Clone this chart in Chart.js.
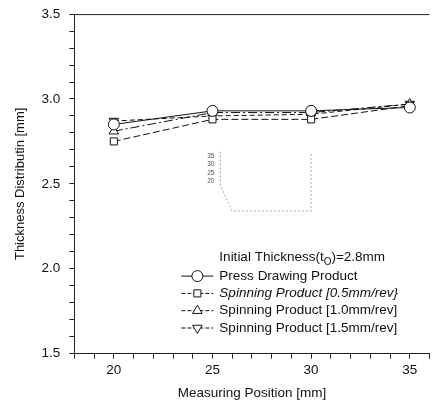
<!DOCTYPE html>
<html lang="en">
<head>
    <meta charset="UTF-8">
    <title>Thickness Distribution</title>
    <style>
        body {
            margin: 0;
            background-color: white;
            overflow: hidden;
        }
        #wrap {
            width: 436px;
            height: 406px;
            margin-top: -3px;
        }
    </style>
</head>
<body>
    <div id="wrap"><canvas id="thicknessChart"></canvas></div>

    <script src="https://cdn.jsdelivr.net/npm/chart.js"></script>
    <script>
        // measuring positions [mm]
        const positions = [20, 25, 30, 35];

        // thickness values [mm]
        const pressDrawing = [2.85, 2.93, 2.93, 2.95];
        const spinning05 = [2.75, 2.88, 2.88, 2.96];
        const spinning10 = [2.81, 2.92, 2.92, 2.97];
        const spinning15 = [2.87, 2.90, 2.91, 2.97];

        const seriesNames = [
            'Press Drawing Product',
            'Spinning Product [0.5mm/rev}',
            'Spinning Product [1.0mm/rev]',
            'Spinning Product [1.5mm/rev]'
        ];

        // faint inset labels from the scanned figure
        const insetLabels = ['35', '30', '25', '20'];
        const insetValues = [2.665, 2.615, 2.565, 2.515];

        const FONT = '"Liberation Sans", Arial, sans-serif';

        const styles = [
            { pointStyle: 'circle', rotation: 0, dash: [] },
            { pointStyle: 'rect', rotation: 0, dash: [7, 3] },
            { pointStyle: 'triangle', rotation: 0, dash: [9, 3, 2, 3] },
            { pointStyle: 'triangle', rotation: 180, dash: [5, 3] }
        ];

        const allSeries = [pressDrawing, spinning05, spinning10, spinning15];

        const datasets = allSeries.map((vals, i) => ({
            label: seriesNames[i],
            data: positions.map((p, j) => ({ x: p, y: vals[j] })),
            borderColor: '#111',
            borderWidth: 1,
            borderDash: styles[i].dash,
            pointStyle: styles[i].pointStyle,
            rotation: styles[i].rotation,
            pointRadius: styles[i].pointStyle === 'rect' ? 5 : 5.5,
            pointBackgroundColor: 'white',
            pointBorderColor: '#111',
            pointBorderWidth: 1,
            tension: 0
        }));

        // top frame line, legend and inset sketch
        const decorations = {
            id: 'decorations',
            afterDraw(chart) {
                const ctx = chart.ctx;
                const ca = chart.chartArea;
                const xs = chart.scales.x;
                const ys = chart.scales.y;

                ctx.save();
                ctx.strokeStyle = '#222';
                ctx.lineWidth = 1;
                ctx.beginPath();
                ctx.moveTo(ca.left, ca.top + 0.5);
                ctx.lineTo(ca.right, ca.top + 0.5);
                ctx.stroke();

                // inset
                ctx.fillStyle = '#555';
                ctx.font = '6.5px ' + FONT;
                ctx.textAlign = 'right';
                ctx.textBaseline = 'middle';
                insetLabels.forEach((t, i) => {
                    ctx.fillText(t, xs.getPixelForValue(25.1), ys.getPixelForValue(insetValues[i]));
                });
                ctx.strokeStyle = '#aaa';
                ctx.setLineDash([2, 2]);
                ctx.beginPath();
                ctx.moveTo(xs.getPixelForValue(25.4), ys.getPixelForValue(2.69));
                ctx.lineTo(xs.getPixelForValue(25.4), ys.getPixelForValue(2.49));
                ctx.lineTo(xs.getPixelForValue(26.0), ys.getPixelForValue(2.34));
                ctx.lineTo(xs.getPixelForValue(30.0), ys.getPixelForValue(2.34));
                ctx.lineTo(xs.getPixelForValue(30.0), ys.getPixelForValue(2.68));
                ctx.stroke();
                ctx.setLineDash([]);

                // legend
                const lx0 = ca.left + 107;
                const lx1 = ca.left + 139;
                const tx = ca.left + 145;
                ctx.fillStyle = '#111';
                ctx.textAlign = 'left';
                ctx.textBaseline = 'middle';
                ctx.font = '13.5px ' + FONT;
                const titleY = ca.top + 243;
                ctx.fillText('Initial Thickness(t', tx, titleY);
                let w = ctx.measureText('Initial Thickness(t').width;
                ctx.font = '10px ' + FONT;
                ctx.fillText('O', tx + w, titleY + 5);
                const w2 = ctx.measureText('O').width;
                ctx.font = '13.5px ' + FONT;
                ctx.fillText(')=2.8mm', tx + w + w2, titleY);

                datasets.forEach((ds, i) => {
                    const y = ca.top + 262 + i * 17.3;
                    ctx.strokeStyle = '#111';
                    ctx.lineWidth = 1;
                    ctx.setLineDash(i === 0 ? [] : [4, 2]);
                    ctx.beginPath();
                    ctx.moveTo(lx0, y);
                    ctx.lineTo(lx1, y);
                    ctx.stroke();
                    ctx.setLineDash([]);
                    ctx.fillStyle = 'white';
                    Chart.helpers.drawPoint(ctx, {
                        pointStyle: ds.pointStyle,
                        rotation: ds.rotation,
                        radius: ds.pointRadius,
                        borderWidth: 1
                    }, (lx0 + lx1) / 2, y);
                    ctx.fillStyle = '#111';
                    ctx.font = (i === 1 ? 'italic ' : '') + '13.5px ' + FONT;
                    ctx.fillText(ds.label, tx, y);
                });
                ctx.restore();
            }
        };

        const isMultiple = (v, step) => Math.abs(v / step - Math.round(v / step)) < 1e-6;

        new Chart(document.getElementById('thicknessChart'), {
            type: 'line',
            data: { datasets: datasets },
            options: {
                responsive: true,
                maintainAspectRatio: false,
                animation: false,
                layout: { padding: { top: 0, right: 0, left: 13, bottom: 2 } },
                plugins: {
                    legend: { display: false },
                    tooltip: { enabled: false }
                },
                scales: {
                    x: {
                        type: 'linear',
                        min: 18,
                        max: 36,
                        border: { color: '#222', width: 1 },
                        grid: { drawOnChartArea: false, color: '#222', tickLength: 5 },
                        ticks: {
                            stepSize: 1,
                            autoSkip: false,
                            maxRotation: 0,
                            color: '#111',
                            font: { family: FONT, size: 13.5 },
                            padding: 4,
                            callback: v => (isMultiple(v, 5) && v >= 20 && v <= 35) ? String(v) : ''
                        },
                        title: {
                            display: true,
                            text: 'Measuring Position [mm]',
                            color: '#111',
                            font: { family: FONT, size: 13.5 },
                            padding: { top: 2, bottom: 0 }
                        }
                    },
                    y: {
                        min: 1.5,
                        max: 3.5,
                        border: { color: '#222', width: 1 },
                        grid: { drawOnChartArea: false, color: '#222', tickLength: 5 },
                        ticks: {
                            stepSize: 0.1,
                            autoSkip: false,
                            color: '#111',
                            font: { family: FONT, size: 13.5 },
                            padding: 9,
                            callback: v => isMultiple(v, 0.5) ? v.toFixed(1) : ''
                        },
                        title: {
                            display: true,
                            text: 'Thickness Distributin [mm]',
                            color: '#111',
                            font: { family: FONT, size: 13 },
                            padding: { top: 0, bottom: 4 }
                        }
                    }
                }
            },
            plugins: [decorations]
        });
    </script>
</body>
</html>
